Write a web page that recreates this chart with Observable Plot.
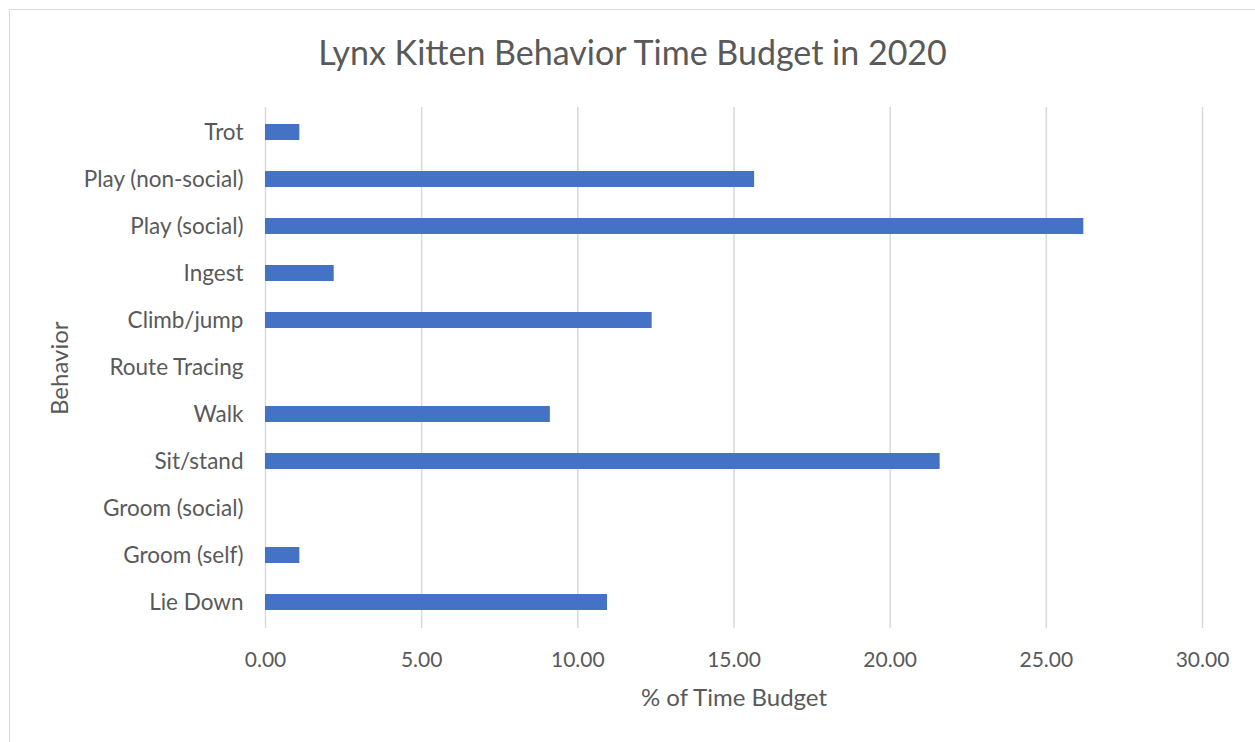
<!DOCTYPE html>
<html>
<head>
<meta charset="utf-8">
<script src="https://cdn.jsdelivr.net/npm/d3@7"></script>
<script src="https://cdn.jsdelivr.net/npm/@observablehq/plot@0.6"></script>
<style>
  html, body { margin: 0; padding: 0; background: #fff; }
  #chart { position: relative; width: 1255px; height: 742px; overflow: hidden; font-family: Lato, "Open Sans", sans-serif; }
  #frame { position: absolute; left: 9px; top: 9px; width: 1250px; height: 740px; border: 1.5px solid #d9d9d9; box-sizing: border-box; pointer-events: none; }
  #title { position: absolute; left: 5px; top: 0; width: 1255px; height: 90px; text-align: center; color: #595959; font-size: 34px; line-height: 104px; }
  #plot { position: absolute; left: 0; top: 90px; }
</style>
</head>
<body>
<div id="chart">
  <div id="frame"></div>
  <div id="title">Lynx Kitten Behavior Time Budget in 2020</div>
  <div id="plot"></div>
</div>
<script>
const behaviors = ["Trot", "Play (non-social)", "Play (social)", "Ingest", "Climb/jump", "Route Tracing", "Walk", "Sit/stand", "Groom (social)", "Groom (self)", "Lie Down"];
const percents = [1.10, 15.66, 26.2, 2.2, 12.38, 0, 9.12, 21.6, 0, 1.10, 10.95];
const xTicks = [0, 5, 10, 15, 20, 25, 30];
const xTitle = "% of Time Budget";
const yTitle = "Behavior";

const data = behaviors.map((b, i) => ({behavior: b, value: percents[i]}));

const chart = Plot.plot({
  width: 1255,
  height: 652,
  marginTop: 17,
  marginBottom: 114,
  marginLeft: 265,
  marginRight: 53,
  style: {fontFamily: "Lato, 'Open Sans', sans-serif", fontSize: "21px", color: "#595959", background: "transparent"},
  x: {domain: [0, 30]},
  y: {domain: behaviors, paddingInner: 0.65, paddingOuter: 0.325},
  marks: [
    Plot.gridX(xTicks, {stroke: "#d9d9d9", strokeOpacity: 1, strokeWidth: 1.5}),
    Plot.barX(data, {x: "value", y: "behavior", fill: "#4472C4"}),
    Plot.axisX({ticks: xTicks, tickFormat: d => d.toFixed(2), tickSize: 0, tickPadding: 24, label: null, fill: "#595959", fontSize: 21}),
    Plot.axisY({tickSize: 0, tickPadding: 22, label: null, fill: "#595959", fontSize: 22.5}),
    Plot.text([xTitle], {frameAnchor: "bottom", lineAnchor: "middle", dy: 70, fontSize: 24, fill: "#595959"}),
    Plot.text([yTitle], {frameAnchor: "left", lineAnchor: "middle", rotate: -90, dx: -205, dy: 47, fontSize: 24, fill: "#595959"})
  ]
});
document.getElementById("plot").appendChild(chart);
</script>
</body>
</html>
